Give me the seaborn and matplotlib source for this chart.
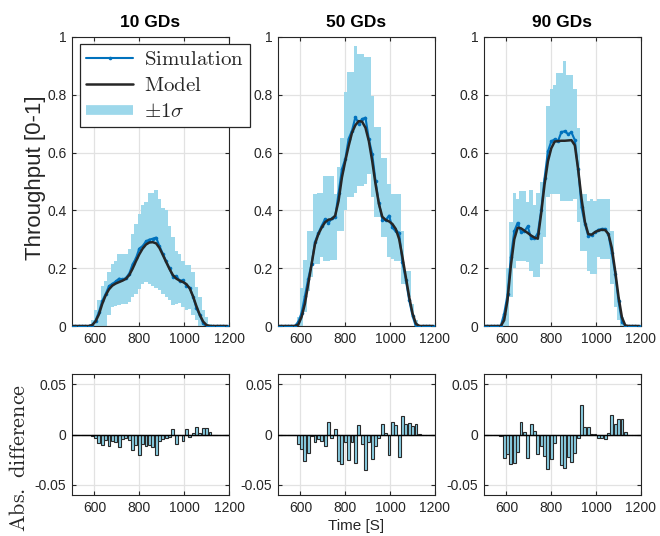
import numpy as np
import matplotlib
matplotlib.use("Agg")
import matplotlib.pyplot as plt
import seaborn as sns
from matplotlib.lines import Line2D

# ---------------- data ----------------
time = list(range(500, 1191, 15))  # sample times [s]
titles = ["10 GDs", "50 GDs", "90 GDs"]

model_10 = [0, 0, 0, 0, 0, 0,
            0.003, 0.016, 0.040, 0.077, 0.106, 0.127, 0.140, 0.147, 0.152, 0.157,
            0.163, 0.176, 0.198, 0.224, 0.248, 0.268, 0.282, 0.289, 0.290, 0.286,
            0.270, 0.246, 0.221, 0.197, 0.176, 0.164, 0.157, 0.152, 0.145, 0.130,
            0.102, 0.068, 0.038, 0.015, 0.003, 0.0,
            0, 0, 0, 0, 0]
diff_10 = [0, 0, 0, 0, 0, 0,
           -0.001, -0.003, -0.008, -0.010, -0.005, -0.011, -0.006, -0.007, -0.012, -0.004,
           -0.003, -0.005, -0.015, -0.010, -0.020, -0.009, -0.011, -0.010, -0.012, -0.020,
           -0.006, -0.004, -0.003, -0.002, 0.005, -0.009, 0.000, -0.006, 0.005, -0.002,
           0.001, 0.007, 0.001, 0.006, 0.006, 0.002,
           0, 0, 0, 0, 0]
hi_10 = [0, 0, 0, 0, 0, 0,
         0.020, 0.054, 0.089, 0.140, 0.157, 0.186, 0.215, 0.226, 0.250, 0.250,
         0.250, 0.267, 0.318, 0.353, 0.387, 0.420, 0.430, 0.460, 0.460, 0.470,
         0.440, 0.410, 0.400, 0.347, 0.307, 0.260, 0.250, 0.226, 0.210, 0.210,
         0.186, 0.134, 0.100, 0.054, 0.031, 0.008,
         0, 0, 0, 0, 0]
lo_10 = [0, 0, 0, 0, 0, 0,
         0, 0, 0, 0, 0, 0.037, 0.066, 0.068, 0.071, 0.075,
         0.077, 0.083, 0.100, 0.110, 0.129, 0.146, 0.152, 0.146, 0.137, 0.132,
         0.123, 0.110, 0.100, 0.089, 0.071, 0.075, 0.080, 0.066, 0.054, 0.060,
         0.037, 0.020, 0, 0, 0, 0,
         0, 0, 0, 0, 0]

model_50 = [0, 0, 0, 0, 0, 0,
            0.004, 0.031, 0.077, 0.146, 0.215, 0.284, 0.318, 0.341, 0.359, 0.368,
            0.370, 0.382, 0.433, 0.514, 0.571, 0.623, 0.669, 0.695, 0.709, 0.707,
            0.686, 0.640, 0.571, 0.490, 0.422, 0.378, 0.367, 0.362, 0.353, 0.336,
            0.301, 0.238, 0.169, 0.100, 0.043, 0.008,
            0, 0, 0, 0, 0]
diff_50 = [0, 0, 0, 0, 0, -0.0005,
           -0.009, -0.014, -0.026, -0.018, -0.001, -0.007, -0.004, -0.006, -0.011, 0.012,
           -0.003, 0.005, -0.026, -0.029, -0.007, -0.025, -0.007, -0.028, 0.009, -0.009,
           -0.035, -0.007, -0.024, -0.011, -0.003, 0.010, 0.001, -0.020, 0.012, 0.009,
           -0.022, 0.018, 0.010, 0.011, 0.008, 0.010,
           0.0003, 0, 0, 0, 0]
hi_50 = [0, 0, 0, 0, 0, 0,
         0.030, 0.130, 0.230, 0.330, 0.330, 0.456, 0.460, 0.460, 0.520, 0.520,
         0.520, 0.456, 0.550, 0.650, 0.810, 0.880, 0.880, 0.970, 0.940, 0.940,
         0.930, 0.930, 0.795, 0.690, 0.690, 0.580, 0.580, 0.490, 0.456, 0.456,
         0.456, 0.330, 0.190, 0.190, 0.077, 0.020,
         0, 0, 0, 0, 0]
lo_50 = [0, 0, 0, 0, 0, 0,
         0, 0, 0.050, 0.120, 0.170, 0.215, 0.215, 0.240, 0.226, 0.226,
         0.230, 0.230, 0.330, 0.330, 0.400, 0.445, 0.445, 0.460, 0.485, 0.485,
         0.490, 0.525, 0.445, 0.376, 0.376, 0.307, 0.307, 0.238, 0.232, 0.226,
         0.226, 0.146, 0.146, 0.100, 0.043, 0,
         0, 0, 0, 0, 0]

model_90 = [0, 0, 0, 0, 0, 0,
            0.020, 0.090, 0.210, 0.300, 0.340, 0.338, 0.330, 0.322, 0.313, 0.306,
            0.302, 0.390, 0.490, 0.570, 0.615, 0.638, 0.640, 0.641, 0.641, 0.642,
            0.643, 0.625, 0.540, 0.440, 0.360, 0.318, 0.316, 0.325, 0.330, 0.333,
            0.332, 0.318, 0.270, 0.190, 0.100, 0.030,
            0.002, 0, 0, 0, 0]
diff_90 = [0, 0, 0, 0, 0, -0.001,
           -0.023, -0.019, -0.029, -0.028, -0.017, 0.012, 0.002, -0.023, 0.010, 0.003,
           -0.019, -0.011, -0.021, -0.034, -0.024, -0.008, 0.000, -0.030, -0.033, -0.022,
           -0.027, -0.018, -0.003, 0.029, 0.007, 0.007, 0.0005, 0.0005, -0.003, -0.003,
           -0.004, 0.001, 0.019, 0.010, 0.015, 0.015,
           0.002, 0, 0, 0, 0]
hi_90 = [0, 0, 0, 0, 0, 0,
         0.030, 0.200, 0.360, 0.460, 0.440, 0.468, 0.468, 0.430, 0.470, 0.420,
         0.460, 0.500, 0.510, 0.760, 0.820, 0.835, 0.876, 0.876, 0.916, 0.870,
         0.870, 0.820, 0.686, 0.456, 0.456, 0.433, 0.440, 0.433, 0.440, 0.440,
         0.440, 0.440, 0.330, 0.190, 0.100, 0.030,
         0, 0, 0, 0, 0]
lo_90 = [0, 0, 0, 0, 0, 0,
         0, 0, 0.100, 0.200, 0.226, 0.226, 0.225, 0.220, 0.190, 0.170,
         0.170, 0.215, 0.307, 0.445, 0.456, 0.456, 0.456, 0.433, 0.433, 0.433,
         0.433, 0.440, 0.360, 0.260, 0.260, 0.190, 0.180, 0.180, 0.240, 0.232,
         0.232, 0.232, 0.146, 0.066, 0.020, 0,
         0, 0, 0, 0, 0]

models = [model_10, model_50, model_90]
diffs = [diff_10, diff_50, diff_90]
his = [hi_10, hi_50, hi_90]
los = [lo_10, lo_50, lo_90]

# ---------------- style ----------------
sns.set_theme(style="white")
plt.rcParams["font.family"] = ["Liberation Sans", "DejaVu Sans"]
plt.rcParams["mathtext.fontset"] = "cm"

SIM_C = "#0072BD"
MOD_C = "#262626"
BAND_C = "#9DD8EB"
BAR_C = "#8ACFE4"
AX_C = "#262626"
GRID_C = "#E2E2E2"

W, H = 660, 536
fig = plt.figure(figsize=(W / 100, H / 100), dpi=100)

lefts = [72, 278, 484]
axw = 157
top_y0, top_y1 = 37, 326
bot_y0, bot_y1 = 374, 495


def frac_rect(x0, y0, w, h):
    return [x0 / W, 1 - (y0 + h) / H, w / W, h / H]


def style_axis(ax):
    for s in ax.spines.values():
        s.set_visible(True)
        s.set_color(AX_C)
        s.set_linewidth(0.8)
    ax.tick_params(direction="in", top=True, right=True, length=3,
                   width=0.8, colors=AX_C, labelsize=10, pad=4,
                   bottom=True, left=True)
    ax.grid(True, color=GRID_C, linewidth=0.9)
    ax.set_axisbelow(True)


t = np.array(time, dtype=float)
step = t[1] - t[0]
for k in range(3):
    model = np.array(models[k])
    diff = np.array(diffs[k])
    sim = model - diff
    hi = np.array(his[k])
    lo = np.array(los[k])

    ax = fig.add_axes(frac_rect(lefts[k], top_y0, axw, top_y1 - top_y0))
    style_axis(ax)
    # +-1 sigma band as stair blocks
    ax.bar(t, hi - lo, bottom=lo, width=step, color=BAND_C, linewidth=0,
           align="center", zorder=1)
    sns.lineplot(x=t, y=sim, ax=ax, color=SIM_C, linewidth=1.5, marker="o",
                 markersize=2.6, markeredgewidth=0, estimator=None, zorder=3)
    sns.lineplot(x=t, y=model, ax=ax, color=MOD_C, linewidth=1.8,
                 estimator=None, zorder=4)
    ax.set_xlim(500, 1200)
    ax.set_ylim(0, 1)
    ax.set_xticks([600, 800, 1000, 1200])
    ax.set_xticklabels(["600", "800", "1000", "1200"])
    ax.set_yticks([0, 0.2, 0.4, 0.6, 0.8, 1.0])
    ax.set_yticklabels(["0", "0.2", "0.4", "0.6", "0.8", "1"])
    ax.set_xlabel("")
    ax.set_ylabel("")
    ax.set_title(titles[k], fontsize=12.5, fontweight="bold", color="black", pad=7)
    if k == 0:
        ax.set_ylabel("Throughput [0-1]", fontsize=16, color=AX_C)
        ax.yaxis.set_label_coords(-0.165, 0.514)
        handles = [
            Line2D([], [], color=SIM_C, linewidth=1.5, marker="o", markersize=2.6,
                   markeredgewidth=0),
            Line2D([], [], color=MOD_C, linewidth=1.8),
            Line2D([], [], color=BAND_C, linewidth=7, solid_capstyle="butt"),
        ]
        labels = [r"$\mathrm{Simulation}$", r"$\mathrm{Model}$", r"$\pm 1\sigma$"]
        leg = ax.legend(handles, labels, loc="upper left",
                        bbox_to_anchor=(0.051, 0.976), fontsize=15,
                        frameon=True, fancybox=False, framealpha=1,
                        edgecolor=AX_C, handlelength=2.25, handletextpad=0.5,
                        labelspacing=0.33, borderpad=0.3, borderaxespad=0)
        leg.get_frame().set_linewidth(0.9)
        leg.set_zorder(10)
        leg.set_clip_on(False)

    axb = fig.add_axes(frac_rect(lefts[k], bot_y0, axw, bot_y1 - bot_y0))
    style_axis(axb)
    sns.barplot(x=t, y=diff, ax=axb, native_scale=True, color=BAR_C,
                saturation=1, edgecolor="#2a2a2a", linewidth=0.8, width=0.85,
                errorbar=None, zorder=2)
    axb.axhline(0, color="black", linewidth=1.0, zorder=3)
    axb.set_xlim(500, 1200)
    axb.set_ylim(-0.06, 0.06)
    axb.set_xticks([600, 800, 1000, 1200])
    axb.set_xticklabels(["600", "800", "1000", "1200"])
    axb.set_yticks([-0.05, 0, 0.05])
    axb.set_yticklabels(["-0.05", "0", "0.05"])
    axb.set_xlabel("")
    axb.set_ylabel("")
    if k == 0:
        axb.set_ylabel(r"$\mathrm{Abs.\ difference}$", fontsize=16, color=AX_C)
        axb.yaxis.set_label_coords(-0.268, 0.31)
    if k == 1:
        axb.set_xlabel("Time [S]", fontsize=11, color=AX_C, labelpad=3)

fig.savefig("out.png", dpi=100)
